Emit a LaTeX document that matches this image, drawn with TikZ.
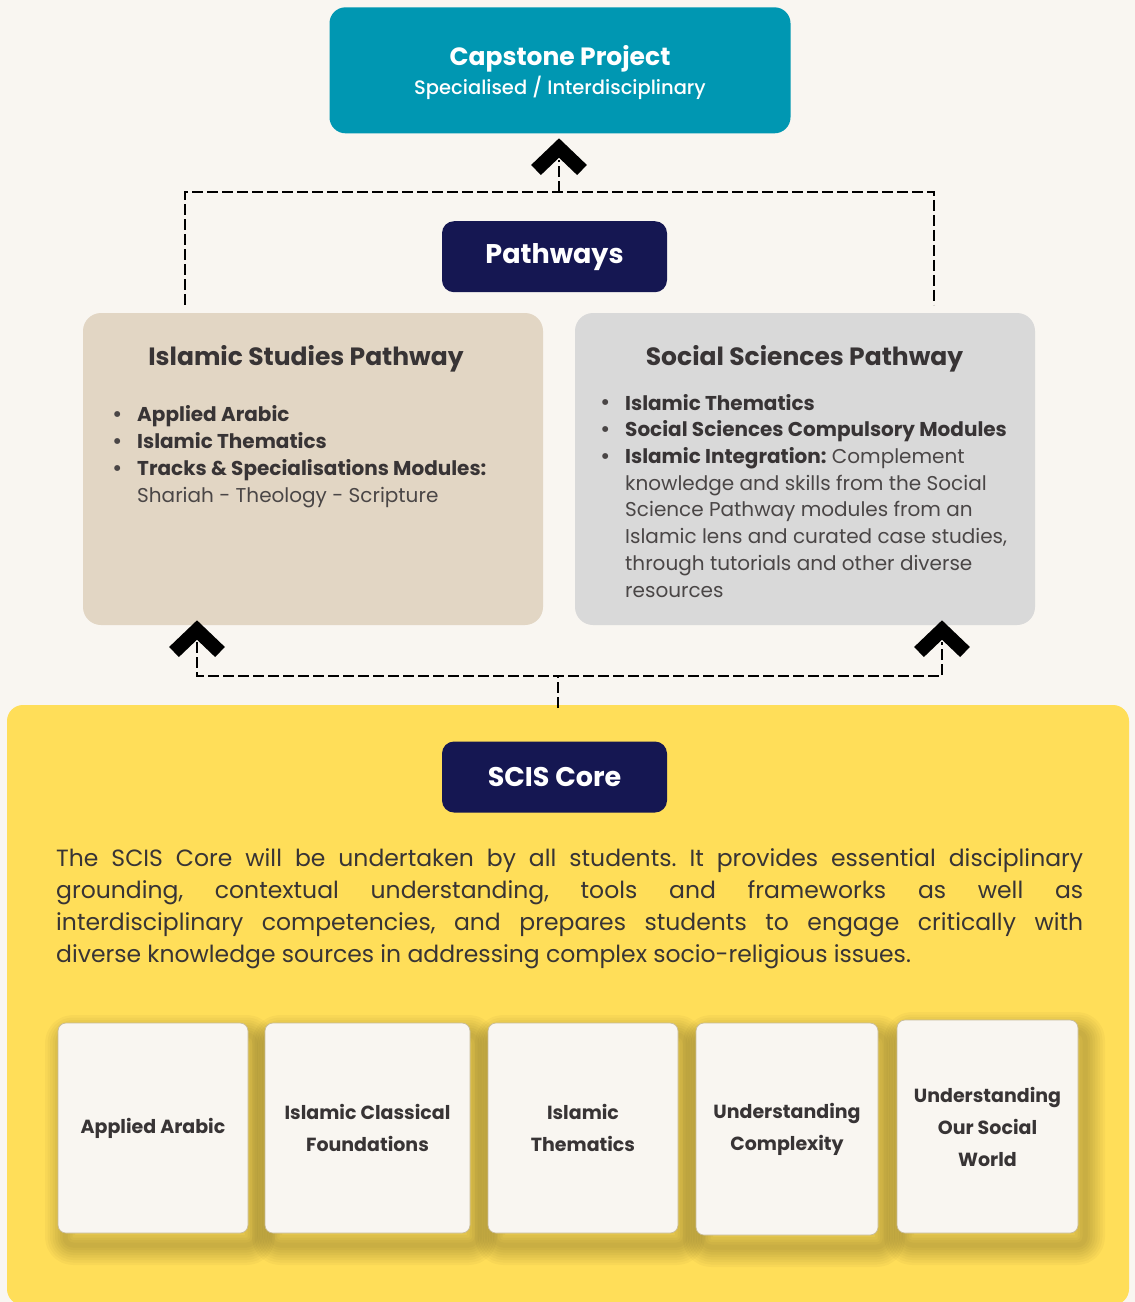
\documentclass[tikz,border=0pt]{standalone}
\usepackage{fontspec}
\setmainfont{Poppins}
\newfontfamily\pmed{Poppins Medium}
\usetikzlibrary{calc}
\definecolor{bgc}{HTML}{F9F6F1}
\definecolor{tealc}{HTML}{0097B2}
\definecolor{navyc}{HTML}{151752}
\definecolor{beigec}{HTML}{E2D6C4}
\definecolor{greyc}{HTML}{D9D9D9}
\definecolor{yellowc}{HTML}{FFDE59}
\definecolor{darkc}{HTML}{383435}
\definecolor{bodyc}{HTML}{4A4646}
\definecolor{cardline}{HTML}{C8BC9A}
\newcommand{\itemdot}{\llap{\raisebox{-0.6pt}{\fontsize{24}{24}\selectfont\textbullet}\hspace{15pt}}}
\newcommand{\jline}[1]{\hbox to 1027pt{\spaceskip=0.27em plus 2em minus 0.05em #1}}
\tikzset{
  navybox/.style={fill=navyc, rounded corners=12pt, minimum width=225pt, minimum height=71pt,
    text=white, font=\fontsize{27}{32}\selectfont\bfseries, inner sep=0pt},
  panel/.style={rounded corners=18pt, minimum width=460pt, minimum height=312pt, inner sep=0pt},
  paneltitle/.style={anchor=base, text=darkc, font=\fontsize{25}{30}\selectfont\bfseries, inner sep=0pt},
  listtext/.style={anchor=north west, inner sep=0pt, align=left, text=bodyc},
  dashline/.style={draw=black, line width=2pt, dash pattern=on 11pt off 4pt},
  chevron/.style={draw=black, line width=14pt, line join=miter, miter limit=10},
  shadowlayer/.style={preaction={draw=black, draw opacity=0.028, line width=#1, line join=round,
    transform canvas={shift={(7pt,-12pt)}}}},
  card/.style={fill=bgc, draw=cardline, line width=0.7pt, rounded corners=8pt, inner sep=0pt,
    align=center, text=darkc, font=\fontsize{19}{32}\selectfont\bfseries,
    shadowlayer=40pt, shadowlayer=35pt, shadowlayer=30pt, shadowlayer=25pt, shadowlayer=20pt,
    shadowlayer=15pt, shadowlayer=10pt, shadowlayer=5pt},
}
\begin{document}
\frenchspacing
\begin{tikzpicture}[x=1pt,y=-1pt]
\useasboundingbox (0,0) rectangle (1135,1302);
\fill[bgc] (0,0) rectangle (1135,1302);

% core area
\node[fill=yellowc, rounded corners=16pt, minimum width=1122pt, minimum height=600pt, inner sep=0pt] (corearea) at (568,1005) {};

% capstone
\node[fill=tealc, rounded corners=16pt, minimum width=461pt, minimum height=126pt, inner sep=0pt] (cap) at (560,70.3) {};
\node[anchor=base, inner sep=0pt, text=white, font=\fontsize{25}{30}\selectfont\bfseries] (captitle) at (560,65.7) {Capstone Project};
\node[anchor=base, inner sep=0pt, text=white, font=\fontsize{19.5}{24}\pmed] (capsub) at (560,94.3) {Specialised / Interdisciplinary};

% pathways label
\node[navybox] (path) at (554.5,256.7) {Pathways};

% panels
\node[panel, fill=beigec] (isl) at (313,469) {};
\node[panel, fill=greyc] (soc) at (805,469) {};
\node[paneltitle] (isltitle) at (306,365) {Islamic Studies Pathway};
\node[paneltitle] (soctitle) at (804.5,365) {Social Sciences Pathway};

\node[listtext, font=\fontsize{20}{27}\selectfont] (isllist) at (137,402.6) {%
\strut\itemdot\textcolor{darkc}{\bfseries Applied Arabic}\\
\itemdot\textcolor{darkc}{\bfseries Islamic Thematics}\\
\itemdot\textcolor{darkc}{\bfseries Tracks \& Specialisations Modules:}\\
Shariah - Theology - Scripture};

\node[listtext, font=\fontsize{20}{26.7}\selectfont] (soclist) at (625,391.3) {%
\strut\itemdot\textcolor{darkc}{\bfseries Islamic Thematics}\\
\itemdot\textcolor{darkc}{\bfseries Social Sciences Compulsory Modules}\\
\itemdot\textcolor{darkc}{\bfseries Islamic Integration:} Complement\\
knowledge and skills from the Social\\
Science Pathway modules from an\\
Islamic lens and curated case studies,\\
through tutorials and other diverse\\
resources};

% SCIS core label
\node[navybox] (core) at (554.5,777) {SCIS Core};

% paragraph
\node[anchor=north west, inner sep=0pt, align=left, text=darkc,
      font=\fontsize{23.5}{31.7}\selectfont] (para) at (56,844.5) {%
\jline{\strut The SCIS Core will be undertaken by all students. It provides essential disciplinary}\\
\jline{grounding, contextual understanding, tools and frameworks as well as}\\
\jline{interdisciplinary competencies, and prepares students to engage critically with}\\
diverse knowledge sources in addressing complex socio-religious issues.};

% cards
\node[card, minimum width=190pt, minimum height=210pt] (c1) at (153,1128) {Applied Arabic};
\node[card, minimum width=205pt, minimum height=210pt] (c2) at (367.5,1128) {Islamic Classical\\Foundations};
\node[card, minimum width=190pt, minimum height=210pt] (c3) at (583,1128) {Islamic\\Thematics};
\node[card, minimum width=182pt, minimum height=212pt] (c4) at (787,1129) {Understanding\\Complexity};
\node[card, minimum width=181pt, minimum height=213pt] (c5) at (987.5,1126.5) {Understanding\\Our Social\\World};

% chevrons
\coordinate (capchev) at (559,148);
\coordinate (lchev) at (197,630);
\coordinate (rchev) at (942,630);
\foreach \c in {capchev,lchev,rchev}
  \draw[chevron] ($(\c)+(-23,22)$) -- (\c) -- ($(\c)+(23,22)$);

% connectors
\coordinate (up) at (559,192);
\coordinate (down) at (558,676);
\draw[dashline] ([xshift=102pt,yshift=8pt]isl.north west) |- (up) -| ([xshift=-101pt,yshift=8pt]soc.north east);
\draw[dashline] (up) -- ([yshift=-12pt]capchev);
\draw[dashline] ([yshift=-12pt]lchev) |- (down) -| ([yshift=-12pt]rchev);
\draw[dashline] ([yshift=-3pt]corearea.north -| down) -- (down);
\end{tikzpicture}
\end{document}
